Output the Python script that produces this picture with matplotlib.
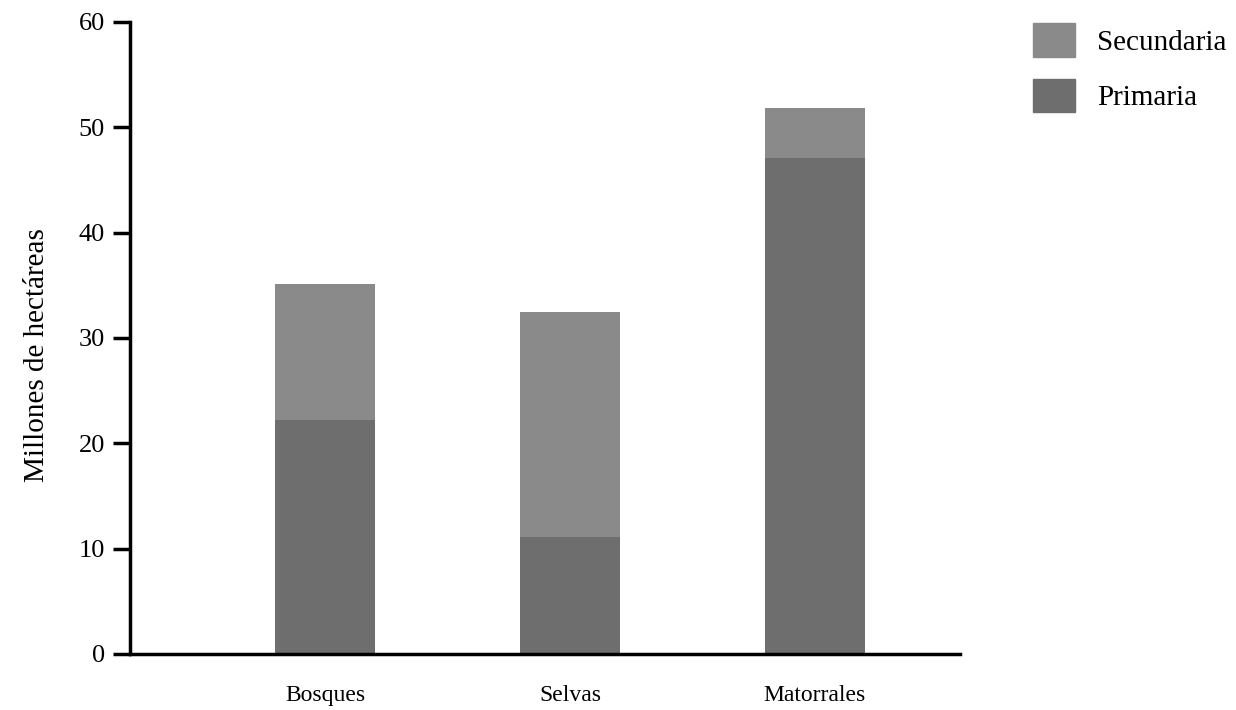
import matplotlib
matplotlib.use("Agg")
import matplotlib.pyplot as plt
from matplotlib.patches import Patch

categories = ["Bosques", "Selvas", "Matorrales"]
primaria = [22.2, 11.1, 47.1]
secundaria = [12.9, 21.4, 4.7]
yticks = [0, 10, 20, 30, 40, 50, 60]

plt.rcParams['font.family'] = ['Liberation Serif', 'DejaVu Serif']

fig = plt.figure(figsize=(12.36, 7.10), dpi=100)
ax = fig.add_axes([130/1236, 1-654/710, (960-130)/1236, (654-22)/710])

c_prim = '#6e6e6e'
c_sec = '#8a8a8a'
x = list(range(len(categories)))
w = 0.41
ax.bar(x, primaria, width=w, color=c_prim, label='Primaria')
ax.bar(x, secundaria, width=w, bottom=primaria, color=c_sec, label='Secundaria')

ax.set_xlim(-0.796, 2.592)
ax.set_ylim(0, 60)
ax.set_yticks(yticks)
ax.set_xticks(x)
ax.set_xticklabels(categories, fontsize=17)
ax.tick_params(axis='x', length=0, pad=22)
ax.tick_params(axis='y', length=12, width=2.5, direction='out', labelsize=19, pad=6)
for s in ['top', 'right']:
    ax.spines[s].set_visible(False)
for s in ['left', 'bottom']:
    ax.spines[s].set_linewidth(2.5)
    ax.spines[s].set_color('black')
ax.set_ylabel('Millones de hectáreas', fontsize=21)
ax.yaxis.set_label_coords(-0.096, 0.473)

handles = [Patch(color=c_sec, label='Secundaria'), Patch(color=c_prim, label='Primaria')]
fig.legend(handles=handles, loc='upper left', bbox_to_anchor=(1033/1236, 1-23/710),
           frameon=False, fontsize=21, handlelength=1.45, handleheight=1.4,
           handletextpad=0.75, labelspacing=0.75, borderpad=0, borderaxespad=0)

fig.savefig('out.png', dpi=100)
